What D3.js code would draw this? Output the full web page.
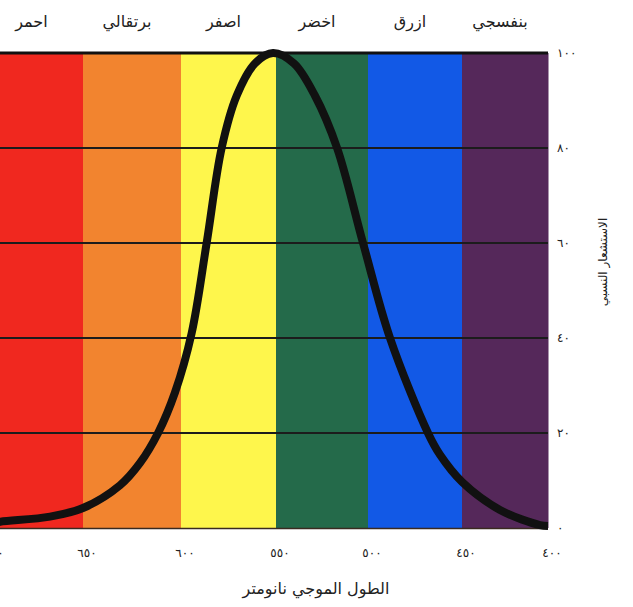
<!DOCTYPE html>
<html lang="ar">
<head>
<meta charset="utf-8">
<script src="https://cdn.jsdelivr.net/npm/d3@7"></script>
<style>
  html, body { margin: 0; padding: 0; background: #fff; }
  svg { display: block; }
  text { font-family: "DejaVu Sans", "Noto Sans", sans-serif; fill: #222; }
</style>
</head>
<body>
<svg id="chart" width="633" height="607"></svg>
<script>
// ---- data ----
const bandNames  = ["احمر", "برتقالي", "اصفر", "اخضر", "ازرق", "بنفسجي"];
const bandStart  = [700, 650, 600, 550, 500, 450];
const bandEnd    = [650, 600, 550, 500, 450, 400];
const bandColors = ["#f0281f", "#f2842f", "#fef64c", "#246a4a", "#1259e6", "#55285a"];

// relative sensitivity (wavelength in nm, value in %)
const wavelengths = [700, 694.6, 667.7, 650, 631.1, 620.9, 611.7, 603.1, 594.4, 586.5, 578.6, 570.7, 561.1, 551.6,
                     540.2, 528.8, 516.8, 502.7, 488.3, 468.1, 461.7, 450, 427.9, 404.7, 400];
const sensitivity = [0.9, 1.3, 2.4, 4.2, 9.0, 13.7, 20, 28.5, 41, 60, 80, 91, 97.8, 100,
                     97.8, 91, 80, 60, 40, 20, 15.4, 9.7, 3.8, 0.6, 0.4];

const xTickValues = [700, 650, 600, 550, 500, 450, 400];
const xTickLabels = ["٧٠٠", "٦٥٠", "٦٠٠", "٥٥٠", "٥٠٠", "٤٥٠", "٤٠٠"];
const yTickValues = [0, 20, 40, 60, 80, 100];
const yTickLabels = ["٠", "٢٠", "٤٠", "٦٠", "٨٠", "١٠٠"];

const xTitle = "الطول الموجي نانومتر";
const yTitle = "الاستشعار النسبي";

// ---- layout ----
const svg = d3.select("#chart");
// the printed wavelength scale is hand drawn, so the bands are not perfectly even
const x = d3.scaleLinear().domain(xTickValues).range([-10, 83, 181, 276, 368, 462, 548]);
const y = d3.scaleLinear().domain([0, 100]).range([528, 53]);

// colour bands
svg.append("g").selectAll("rect")
  .data(bandNames)
  .join("rect")
  .attr("x", (d, i) => x(bandStart[i]))
  .attr("y", y(100))
  .attr("width", (d, i) => x(bandEnd[i]) - x(bandStart[i]) + 0.5)
  .attr("height", y(0) - y(100))
  .attr("fill", (d, i) => bandColors[i]);

// band names on top
svg.append("g").selectAll("text")
  .data(bandNames)
  .join("text")
  .attr("x", (d, i) => (x(bandStart[i]) + x(bandEnd[i])) / 2 - 5)
  .attr("y", 27)
  .attr("text-anchor", "middle")
  .attr("font-size", 16)
  .text(d => d);

// horizontal grid lines
svg.append("g").selectAll("line")
  .data(yTickValues.filter(v => v > 0))
  .join("line")
  .attr("x1", x(700)).attr("x2", x(400))
  .attr("y1", d => y(d)).attr("y2", d => y(d))
  .attr("stroke", d => d === 100 ? "#111" : "#1c1c1c")
  .attr("stroke-width", d => d === 100 ? 3 : 2);

// bottom edge
svg.append("line")
  .attr("x1", x(700)).attr("x2", x(400))
  .attr("y1", y(0) + 0.5).attr("y2", y(0) + 0.5)
  .attr("stroke", "#3a2a20").attr("stroke-width", 1.5);

// sensitivity curve
const line = d3.line()
  .x(d => x(d[0]))
  .y(d => y(d[1]))
  .curve(d3.curveCatmullRom.alpha(0.5));
svg.append("path")
  .datum(wavelengths.map((w, i) => [w, sensitivity[i]]))
  .attr("d", line)
  .attr("fill", "none")
  .attr("stroke", "#111")
  .attr("stroke-width", 8)
  .attr("stroke-linejoin", "round");

// x tick labels
svg.append("g").selectAll("text")
  .data(xTickValues)
  .join("text")
  .attr("x", d => x(d) + 4)
  .attr("y", 557)
  .attr("text-anchor", "middle")
  .attr("font-size", 12)
  .attr("letter-spacing", 7)
  .text((d, i) => xTickLabels[i]);

// y tick labels
svg.append("g").selectAll("text")
  .data(yTickValues)
  .join("text")
  .attr("x", 557)
  .attr("y", d => y(d))
  .attr("dy", "0.35em")
  .attr("text-anchor", "start")
  .attr("font-size", 12)
  .attr("letter-spacing", 7)
  .text((d, i) => yTickLabels[i]);

// axis titles
svg.append("text")
  .attr("x", 316)
  .attr("y", 594)
  .attr("text-anchor", "middle")
  .attr("font-size", 16)
  .text(xTitle);

svg.append("text")
  .attr("transform", "translate(603,262) rotate(-90)")
  .attr("text-anchor", "middle")
  .attr("dy", "0.35em")
  .attr("font-size", 12)
  .text(yTitle);
</script>
</body>
</html>
